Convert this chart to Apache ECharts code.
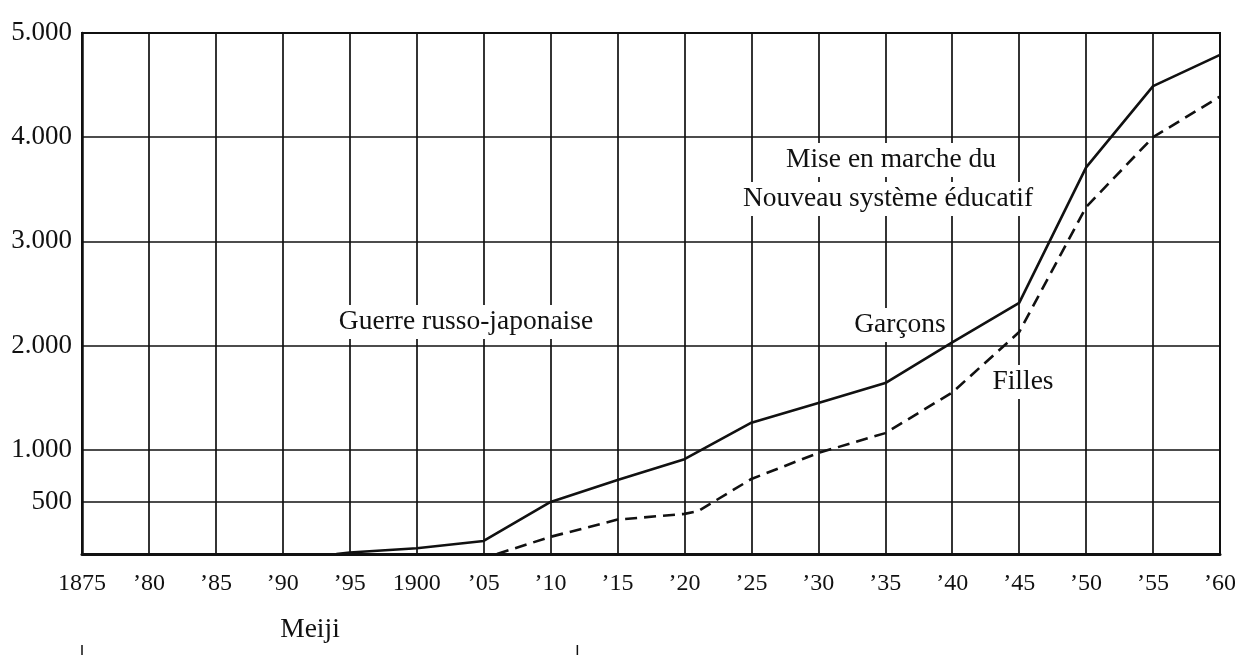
<!DOCTYPE html>
<html>
<head>
<meta charset="utf-8">
<script src="https://cdn.jsdelivr.net/npm/echarts@6/dist/echarts.min.js"></script>
<style>
html,body{margin:0;padding:0;background:#fff;}
#chart{width:1235px;height:655px;}
</style>
</head>
<body>
<div id="chart"></div>
<script>
// ---- data ----
const xTickLabels = ['1875','\u201980','\u201985','\u201990','\u201995','1900','\u201905','\u201910','\u201915','\u201920','\u201925','\u201930','\u201935','\u201940','\u201945','\u201950','\u201955','\u201960'];
const yTicks = [500, 1000, 2000, 3000, 4000, 5000];
const yTickLabels = ['500', '1.000', '2.000', '3.000', '4.000', '5.000'];

const garconsYears  = [1894, 1895, 1900, 1905, 1910, 1915, 1920, 1925, 1930, 1935, 1940, 1945, 1950, 1955, 1960];
const garconsValues = [0,    15,   55,   125,  500,  710,  910,  1260, 1450, 1640, 2030, 2410, 3710, 4490, 4790];

const fillesYears  = [1906, 1910, 1915, 1920, 1921, 1925, 1930, 1935, 1940, 1945, 1950, 1955, 1960];
const fillesValues = [0,    165,  330,  385,  410,  720,  970,  1160, 1550, 2130, 3330, 4000, 4390];

const meijiEnd = 1912;
const meijiStartShown = 1875;

// ---- chart ----
const FONT = '"Liberation Serif", "Times New Roman", serif';
const chart = echarts.init(document.getElementById('chart'), null, {renderer: 'canvas'});

const toPairs = (xs, ys) => xs.map((x, i) => [x, ys[i]]);

chart.setOption({
  animation: false,
  backgroundColor: '#fff',
  grid: {left: 82, right: 15, top: 33, bottom: 101, show: true, borderColor: '#111', borderWidth: 2,
         containLabel: false, outerBoundsMode: 'none'},
  xAxis: {
    type: 'value', min: 1875, max: 1960, interval: 5,
    axisLine: {show: true, onZero: false, lineStyle: {color: '#111', width: 3}},
    axisTick: {show: false},
    splitLine: {show: true, lineStyle: {color: '#111', width: 1.7}},
    axisLabel: {
      margin: 18, color: '#111', fontFamily: FONT, fontSize: 24,
      formatter: v => xTickLabels[Math.round((v - 1875) / 5)] || ''
    }
  },
  yAxis: {
    type: 'value', min: 0, max: 5000, interval: 500,
    axisLine: {show: true, lineStyle: {color: '#111', width: 2.5}},
    axisTick: {show: false},
    splitLine: {show: false},
    axisLabel: {
      margin: 10, color: '#111', fontFamily: FONT, fontSize: 27,
      formatter: v => { const i = yTicks.indexOf(v); return i >= 0 ? yTickLabels[i] : ''; }
    }
  },
  series: [
    {
      name: 'Garçons', type: 'line', data: toPairs(garconsYears, garconsValues),
      symbol: 'none', lineStyle: {color: '#111', width: 2.6}, z: 5,
      markLine: {
        silent: true, symbol: 'none', label: {show: false},
        lineStyle: {color: '#111', width: 1.7, type: 'solid'},
        data: yTicks.map(v => ({yAxis: v}))
      }
    },
    {
      name: 'Filles', type: 'line', data: toPairs(fillesYears, fillesValues),
      symbol: 'none', lineStyle: {color: '#111', width: 2.6, type: [12, 7]}, z: 5
    }
  ]
});

function txt(text, x, y, size, bg) {
  return {
    type: 'text', z: 100,
    style: {
      text: text, x: x, y: y, align: 'center', verticalAlign: 'middle',
      font: size + 'px ' + FONT, fill: '#111',
      backgroundColor: bg ? '#fff' : 'transparent', padding: [3, 4]
    }
  };
}

const px1 = chart.convertToPixel({xAxisIndex: 0}, meijiStartShown);
const px2 = chart.convertToPixel({xAxisIndex: 0}, meijiEnd);

chart.setOption({
  graphic: [
    txt('Guerre russo-japonaise', 466, 322, 27.5, true),
    txt('Mise en marche du', 891, 160, 27.5, true),
    txt('Nouveau système éducatif', 888, 199, 27.5, true),
    txt('Garçons', 900, 325, 27.5, true),
    txt('Filles', 1023, 382, 27.5, true),
    txt('Meiji', 310, 630, 27.5, false),
    {type: 'line', shape: {x1: px1, y1: 645, x2: px1, y2: 655}, style: {stroke: '#111', lineWidth: 1.5}},
    {type: 'line', shape: {x1: px2, y1: 645, x2: px2, y2: 655}, style: {stroke: '#111', lineWidth: 1.5}}
  ]
});
</script>
</body>
</html>
